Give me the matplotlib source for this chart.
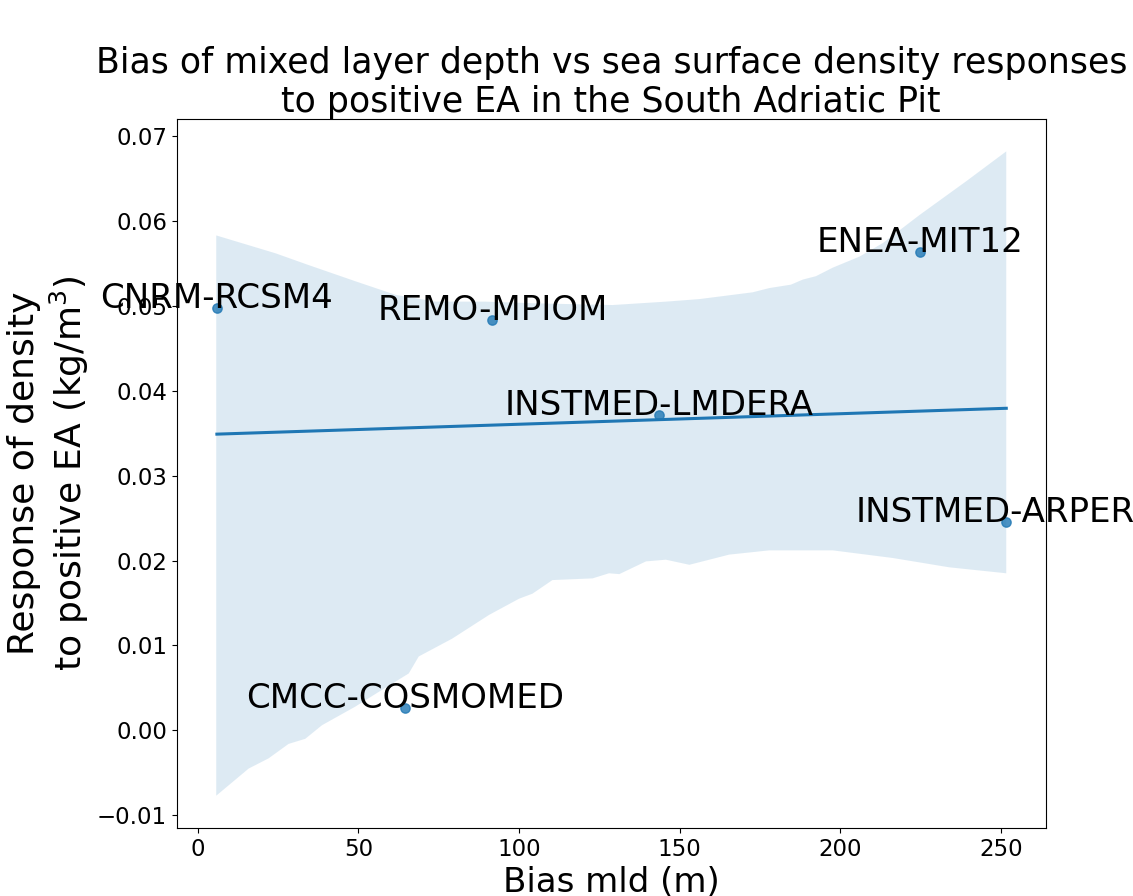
import numpy as np
import matplotlib
matplotlib.use('Agg')
import matplotlib.pyplot as plt
import seaborn as sns

# model names and values
models = ['CNRM-RCSM4', 'REMO-MPIOM', 'CMCC-COSMOMED', 'INSTMED-LMDERA',
          'ENEA-MIT12', 'INSTMED-ARPERA']
bias_mld = [6.0, 91.7, 64.5, 143.6, 224.8, 251.6]
dens_resp = [0.0497, 0.0483, 0.0026, 0.0372, 0.0563, 0.0245]

# confidence band edges
ci_up_x = [5.8, 24.2, 34.6, 49.1, 61.6, 74.0, 89.6, 105.2, 129.1, 145.7, 156.1,
           172.7, 177.9, 184.6, 188.3, 192.4, 197.6, 205.9, 213.2, 224.6,
           239.2, 251.6]
ci_up_y = [0.0583, 0.0562, 0.0548, 0.0529, 0.0513, 0.0505, 0.0505, 0.0503,
           0.0501, 0.0505, 0.0508, 0.0516, 0.0521, 0.0525, 0.0531, 0.0535,
           0.0545, 0.0558, 0.0574, 0.0607, 0.0647, 0.0682]
ci_lo_x = [5.8, 15.9, 22.1, 28.3, 33.5, 38.7, 49.1, 55.4, 65.7, 68.8, 79.2,
           90.7, 100.0, 104.2, 110.4, 122.9, 128.0, 131.2, 139.5, 145.7, 153.0,
           165.4, 177.9, 197.6, 216.3, 233.9, 251.6]
ci_lo_y = [-0.0077, -0.0045, -0.0033, -0.0016, -0.0010, 0.0006, 0.0028,
           0.0043, 0.0067, 0.0087, 0.0108, 0.0136, 0.0155, 0.0161, 0.0177,
           0.0179, 0.0185, 0.0184, 0.0199, 0.0201, 0.0195, 0.0207, 0.0212,
           0.0212, 0.0203, 0.0192, 0.0185]

fig, ax = plt.subplots(figsize=(11.33, 8.96), dpi=100)
fig.subplots_adjust(left=0.156, right=0.923, bottom=0.076, top=0.867)

# band
ax.fill(np.concatenate([ci_up_x, ci_lo_x[::-1]]),
        np.concatenate([ci_up_y, ci_lo_y[::-1]]),
        color='C0', alpha=0.15, linewidth=0)

sns.regplot(x=np.array(bias_mld), y=np.array(dens_resp), ci=None, ax=ax,
            color='C0', scatter_kws={'s': 45}, line_kws={'linewidth': 2.2})

for name, xv, yv in zip(models, bias_mld, dens_resp):
    ax.text(xv, yv, name, ha='center', fontsize=24.5)

ax.set_title('Bias of mixed layer depth vs sea surface density responses\n'
             'to positive EA in the South Adriatic Pit', fontsize=25, pad=4)
ax.set_xlabel('Bias mld (m)', fontsize=24.5)
ax.set_ylabel('Response of density\nto positive EA (kg/m$^3$)', fontsize=26)
ax.tick_params(axis='both', which='major', labelsize=16.5)

plt.savefig('out.png', dpi=100)
